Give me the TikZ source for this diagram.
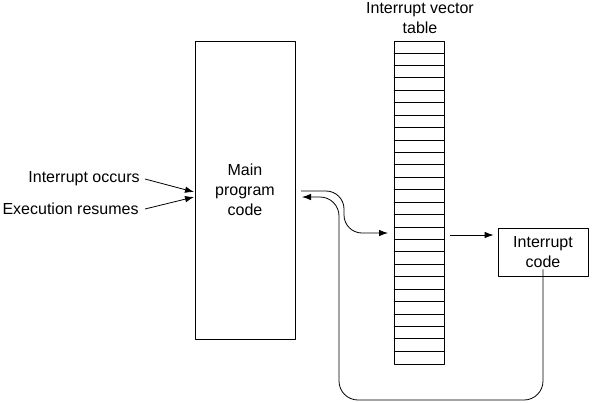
\documentclass[tikz,border=0pt]{standalone}
\usepackage{fontspec}
\setmainfont{Liberation Sans}
\usetikzlibrary{arrows.meta}
\tikzset{
  box/.style={draw, line width=0.8pt, inner sep=0pt, align=center},
  lbl/.style={inner sep=0pt, align=center}
}
\begin{document}
\begin{tikzpicture}[x=1pt, y=-1pt, line width=0.8pt, line join=round,
    font=\fontsize{16}{20}\selectfont, >={Latex[length=9pt,width=6.5pt]}]
  \useasboundingbox (0,0) rectangle (600,402);

  % boxes
  \node[box, minimum width=100pt, minimum height=298pt] (main) at (245,190) {Main\\program\\code};
  \node[box, minimum width=50pt, minimum height=323pt] (table) at (419,202.5) {};
  \node[box, minimum width=90pt, minimum height=48pt] (isr) at (543,252) {Interrupt\\code};
  \node[lbl] (title) at (420,18) {Interrupt vector\\table};

  % table rows
  \foreach \i in {1,...,25}
    \draw (table.north west) ++(0,\i*12.423) -- ++(50,0);

  % left labels
  \node[lbl, anchor=east] (occurs) at (140,179) {Interrupt occurs};
  \node[lbl, anchor=east] (resumes) at (139,209) {Execution resumes};
  \coordinate (in1) at (194,192);
  \coordinate (in2) at (194,197);
  \draw[->] ([xshift=5pt]occurs.east) -- (in1);
  \draw[->] ([xshift=6pt]resumes.east) -- (in2);

  % call into the vector table
  \coordinate (callout) at (301,191);
  \coordinate (callin) at (388,233);
  \draw[->, rounded corners=18pt] (callout) -- (344,191) -- (344,233) -- (callin);

  % table to interrupt code
  \coordinate (tabout) at (450,235);
  \draw[->] (tabout) -- ([xshift=-4pt]isr.west |- tabout);

  % return path
  \coordinate (retout) at ([yshift=7pt]isr.south);
  \coordinate (retin) at (302,197);
  \draw[->, rounded corners=19pt] (retout) -- (543,400) -- (339,400) -- (339,197) -- (retin);
\end{tikzpicture}
\end{document}
